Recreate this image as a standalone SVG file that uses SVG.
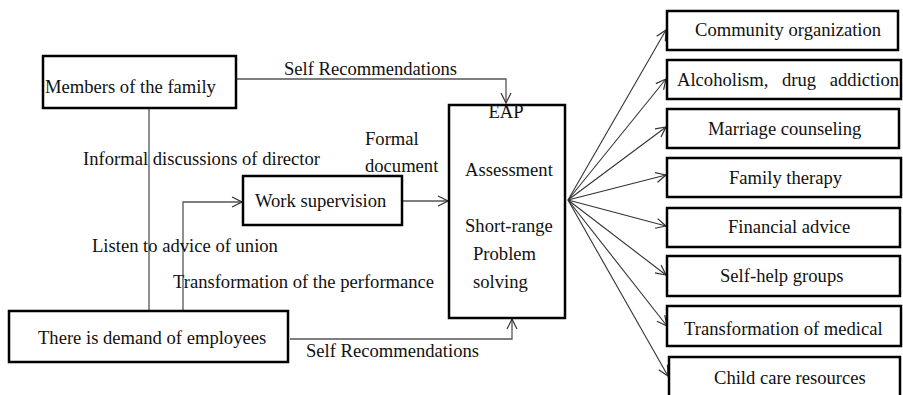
<svg xmlns="http://www.w3.org/2000/svg" width="903" height="395" viewBox="0 0 903 395">
<defs>
<marker id="arr" viewBox="0 0 12 12" refX="11" refY="6" markerWidth="12" markerHeight="12" markerUnits="userSpaceOnUse" orient="auto">
<path d="M1,1 L11,6 L1,11" fill="none" stroke="#333" stroke-width="1.2"/>
</marker>
<style>
.box{fill:#fff;stroke:#000;stroke-width:2.5}
.t{font-family:"Liberation Serif","Times New Roman",serif;font-size:18.6px;fill:#111}
.c{fill:none;stroke:#555;stroke-width:1.3}
.f{fill:none;stroke:#333;stroke-width:1.1}
</style>
</defs>
<rect width="903" height="395" fill="#fff"/>
<g id="connectors">
<path class="c" d="M236,79 H506 V103" marker-end="url(#arr)"/>
<path class="c" d="M149,108 V311"/>
<path class="c" d="M183,311 V202 H242" marker-end="url(#arr)"/>
<path class="c" d="M402,201 H448" marker-end="url(#arr)"/>
<path class="c" d="M290,339 H512 V319" marker-end="url(#arr)"/>
<line class="f" x1="568" y1="200" x2="666" y2="30" marker-end="url(#arr)"/>
<line class="f" x1="568" y1="200" x2="666" y2="79" marker-end="url(#arr)"/>
<line class="f" x1="568" y1="200" x2="666" y2="127" marker-end="url(#arr)"/>
<line class="f" x1="568" y1="200" x2="666" y2="175" marker-end="url(#arr)"/>
<line class="f" x1="568" y1="200" x2="666" y2="226" marker-end="url(#arr)"/>
<line class="f" x1="568" y1="200" x2="666" y2="275" marker-end="url(#arr)"/>
<line class="f" x1="568" y1="200" x2="667" y2="326" marker-end="url(#arr)"/>
<line class="f" x1="568" y1="200" x2="668" y2="376" marker-end="url(#arr)"/>
<text class="t" x="284" y="75">Self Recommendations</text>
<text class="t" x="83" y="165">Informal discussions of director</text>
<text class="t" x="365" y="145">Formal</text>
<text class="t" x="365" y="172">document</text>
<text class="t" x="92" y="252">Listen to advice of union</text>
<text class="t" x="173" y="288">Transformation of the performance</text>
<text class="t" x="306" y="357">Self Recommendations</text>
</g>
<g id="family">
<rect class="box" x="43" y="56" width="193" height="52"/>
<text class="t" x="45" y="93">Members of the family</text>
</g>
<g id="employees">
<rect class="box" x="9" y="311" width="279" height="51"/>
<text class="t" x="38" y="344">There is demand of employees</text>
</g>
<g id="supervision">
<rect class="box" x="243" y="176" width="159" height="49"/>
<text class="t" x="255" y="207">Work supervision</text>
</g>
<g id="eap">
<rect class="box" x="449" y="105" width="116" height="213"/>
<text class="t" x="506" y="118" text-anchor="middle">EAP</text>
<text class="t" x="465" y="176">Assessment</text>
<text class="t" x="465" y="232">Short-range</text>
<text class="t" x="473" y="260">Problem</text>
<text class="t" x="473" y="288">solving</text>
</g>
<g id="community">
<rect class="box" x="667" y="11" width="231" height="39"/>
<text class="t" x="695" y="36">Community organization</text>
</g>
<g id="alcoholism">
<rect class="box" x="667" y="60" width="234" height="39"/>
<text class="t" x="677" y="86" word-spacing="9">Alcoholism, drug addiction</text>
</g>
<g id="marriage">
<rect class="box" x="667" y="109" width="232" height="39"/>
<text class="t" x="708" y="135">Marriage counseling</text>
</g>
<g id="therapy">
<rect class="box" x="667" y="158" width="234" height="39"/>
<text class="t" x="729" y="184">Family therapy</text>
</g>
<g id="financial">
<rect class="box" x="667" y="208" width="233" height="39"/>
<text class="t" x="728" y="233">Financial advice</text>
</g>
<g id="selfhelp">
<rect class="box" x="667" y="256" width="233" height="40"/>
<text class="t" x="720" y="282">Self-help groups</text>
</g>
<g id="medical">
<rect class="box" x="667" y="306" width="234" height="40"/>
<text class="t" x="684" y="335">Transformation of medical</text>
</g>
<g id="childcare">
<rect class="box" x="669" y="357" width="231" height="42"/>
<text class="t" x="714" y="384">Child care resources</text>
</g>
</svg>
